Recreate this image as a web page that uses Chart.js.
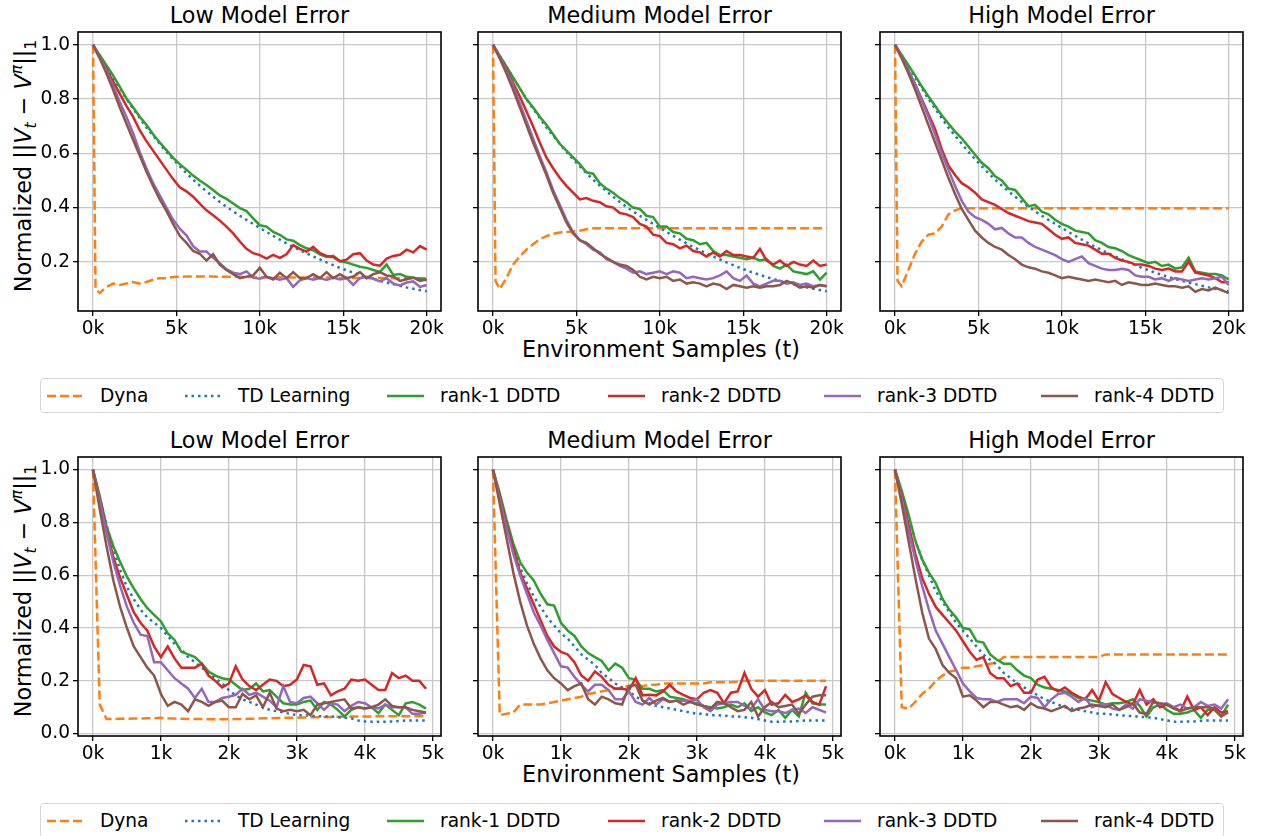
<!DOCTYPE html>
<html>
<head>
<meta charset="utf-8">
<script src="https://cdn.jsdelivr.net/npm/chart.js@4.4.1/dist/chart.umd.min.js"></script>
<style>
  body { margin: 0; background: #fff; font-family: 'DejaVu Sans', sans-serif; }
  #fig { position: relative; width: 1261px; height: 836px; overflow: hidden; background: #fff; }
  #fig canvas { position: absolute; }
  .title { position: absolute; font-size: 22.3px; line-height: 26px; text-align: center; color: #000; white-space: nowrap; }
  .yl { position: absolute; width: 0; height: 0; }
  .yl div { position: absolute; left: 0; top: 0; white-space: nowrap; font-size: 22.3px; line-height: 26px;
            transform: translate(-50%, -50%) rotate(-90deg); }
  .yl sub, .yl sup { font-size: 70%; line-height: 0; }
  .yl sub { vertical-align: -0.3em; }
  .yl sup { vertical-align: 0.55em; }
  .legend { position: absolute; left: 40px; width: 1184px; height: 35px; box-sizing: border-box;
            border: 1px solid #d6d6d6; border-radius: 4px; background: #fff; }
  .legend .item { position: absolute; top: 0; height: 100%; display: flex; align-items: center;
                  font-size: 18.6px; color: #000; white-space: nowrap; }
  .legend svg { margin-right: 16px; }
</style>
</head>
<body>
<div id="fig">
  <div class="title" style="left:78px;top:2px;width:363px">Low Model Error</div>
  <div class="title" style="left:478px;top:2px;width:363px">Medium Model Error</div>
  <div class="title" style="left:880px;top:2px;width:363px">High Model Error</div>
  <div class="title" style="left:78px;top:427px;width:363px">Low Model Error</div>
  <div class="title" style="left:478px;top:427px;width:363px">Medium Model Error</div>
  <div class="title" style="left:880px;top:427px;width:363px">High Model Error</div>

  <div class="title" style="left:461px;top:336px;width:400px">Environment Samples (t)</div>
  <div class="title" style="left:461px;top:761px;width:400px">Environment Samples (t)</div>

  <div class="yl" style="left:23px;top:166px"><div>Normalized ||<i>V</i><sub><i>t</i></sub> − <i>V</i><sup><i>π</i></sup>||<sub>1</sub></div></div>
  <div class="yl" style="left:23px;top:591px"><div>Normalized ||<i>V</i><sub><i>t</i></sub> − <i>V</i><sup><i>π</i></sup>||<sub>1</sub></div></div>

  <div class="legend" id="leg1" style="top:378px"></div>
  <div class="legend" id="leg2" style="top:803px"></div>

  <canvas id="c1"></canvas><canvas id="c2"></canvas><canvas id="c3"></canvas>
  <canvas id="c4"></canvas><canvas id="c5"></canvas><canvas id="c6"></canvas>
</div>

<script>
// ── Series names / colours (matplotlib tab10) ──
var SERIES = ['Dyna', 'TD Learning', 'rank-1 DDTD', 'rank-2 DDTD', 'rank-3 DDTD', 'rank-4 DDTD'];
var COLORS = ['#ff7f0e', '#1f77b4', '#2ca02c', '#d62728', '#9467bd', '#8c564b'];

// ── Top row: 0 .. 20k environment samples ──
var xTop = [0,150,400,800,1200,1600,2000,2400,2800,3200,3600,4000,4400,
  4800,5200,5600,6000,6400,6800,7200,7600,8000,8400,8800,9200,9600,
  10000,10400,10800,11200,11600,12000,12400,12800,13200,13600,14000,14400,14800,
  15200,15600,16000,16400,16800,17200,17600,18000,18400,18800,19200,19600,20000];

var tdTop = [1.0,0.985,0.96,0.92,0.88,0.84,0.80,0.765,0.73,0.695,0.665,0.635,0.605,
  0.578,0.552,0.527,0.503,0.481,0.46,0.44,0.421,0.403,0.386,0.37,0.355,0.34,
  0.325,0.31,0.296,0.282,0.268,0.255,0.243,0.231,0.22,0.209,0.198,0.188,0.178,
  0.169,0.16,0.152,0.144,0.137,0.13,0.124,0.118,0.112,0.106,0.101,0.096,0.092];

// Low model error (top)
var dynaLowT = [1.0,0.1,0.085,0.108,0.12,0.115,0.12,0.126,0.12,0.126,0.134,0.14,0.14,
  0.144,0.145,0.146,0.146,0.146,0.146,0.146,0.145,0.145,0.145,0.145,0.144,0.144,
  0.143,0.143,0.143,0.143,0.142,0.142,0.142,0.142,0.142,0.142,0.142,0.142,0.141,
  0.141,0.141,0.141,0.141,0.141,0.141,0.14,0.14,0.14,0.14,0.14,0.14,0.14];
var r1LowT = [1.0,0.985,0.962,0.925,0.887,0.846,0.803,0.77,0.735,0.705,0.67,0.64,0.612,
  0.583,0.56,0.54,0.518,0.50,0.483,0.465,0.445,0.432,0.415,0.398,0.387,0.36,
  0.335,0.33,0.31,0.30,0.283,0.278,0.262,0.25,0.243,0.228,0.218,0.222,0.203,
  0.198,0.19,0.182,0.178,0.17,0.163,0.19,0.152,0.155,0.145,0.142,0.138,0.132];
var r2LowT = [1.0,0.985,0.955,0.91,0.865,0.82,0.775,0.735,0.685,0.645,0.61,0.575,0.54,
  0.505,0.475,0.46,0.44,0.415,0.39,0.372,0.352,0.33,0.305,0.275,0.248,0.232,
  0.225,0.212,0.226,0.215,0.228,0.262,0.248,0.238,0.255,0.232,0.222,0.218,0.202,
  0.208,0.228,0.232,0.205,0.19,0.186,0.212,0.222,0.226,0.245,0.235,0.258,0.245];
var r3LowT = [1.0,0.985,0.955,0.905,0.85,0.79,0.735,0.675,0.605,0.545,0.49,0.445,0.40,
  0.355,0.322,0.298,0.258,0.238,0.238,0.215,0.195,0.172,0.16,0.155,0.165,0.142,
  0.138,0.145,0.14,0.134,0.14,0.108,0.132,0.14,0.134,0.14,0.133,0.142,0.135,
  0.14,0.115,0.14,0.145,0.138,0.128,0.14,0.12,0.113,0.124,0.128,0.108,0.115];
var r4LowT = [1.0,0.98,0.95,0.895,0.835,0.77,0.71,0.65,0.592,0.533,0.48,0.43,0.388,
  0.34,0.296,0.27,0.24,0.23,0.205,0.228,0.19,0.17,0.155,0.14,0.145,0.15,
  0.178,0.145,0.135,0.16,0.14,0.162,0.14,0.14,0.155,0.14,0.162,0.14,0.155,
  0.14,0.146,0.162,0.14,0.155,0.162,0.15,0.146,0.13,0.136,0.142,0.13,0.136];

// Medium model error (top)
var dynaMedT = [1.0,0.13,0.1,0.14,0.19,0.22,0.245,0.265,0.283,0.295,0.303,0.308,0.31,
  0.312,0.315,0.32,0.324,0.324,0.324,0.324,0.324,0.324,0.324,0.324,0.324,0.324,
  0.324,0.324,0.324,0.324,0.324,0.324,0.324,0.324,0.324,0.324,0.324,0.324,0.324,
  0.324,0.324,0.324,0.324,0.324,0.324,0.324,0.324,0.324,0.324,0.324,0.324,0.324];
var r1MedT = [1.0,0.985,0.96,0.92,0.88,0.84,0.80,0.77,0.735,0.705,0.67,0.635,0.61,
  0.585,0.56,0.53,0.525,0.49,0.47,0.455,0.435,0.42,0.40,0.395,0.37,0.365,
  0.33,0.33,0.31,0.305,0.285,0.28,0.265,0.27,0.24,0.225,0.225,0.22,0.215,
  0.21,0.215,0.205,0.21,0.185,0.175,0.19,0.165,0.16,0.155,0.165,0.135,0.16];
var r2MedT = [1.0,0.985,0.955,0.91,0.86,0.81,0.755,0.70,0.64,0.585,0.545,0.51,0.48,
  0.455,0.43,0.435,0.425,0.42,0.405,0.40,0.38,0.375,0.365,0.34,0.33,0.30,
  0.295,0.27,0.265,0.25,0.26,0.24,0.235,0.22,0.235,0.22,0.24,0.225,0.225,
  0.22,0.215,0.248,0.205,0.19,0.205,0.185,0.2,0.19,0.185,0.205,0.185,0.19];
var r3MedT = [1.0,0.985,0.955,0.905,0.85,0.785,0.72,0.655,0.59,0.53,0.465,0.41,0.355,
  0.31,0.28,0.265,0.245,0.235,0.21,0.2,0.185,0.175,0.16,0.165,0.155,0.16,
  0.165,0.155,0.165,0.16,0.14,0.145,0.14,0.135,0.14,0.15,0.165,0.14,0.13,
  0.15,0.12,0.11,0.12,0.13,0.13,0.12,0.125,0.115,0.12,0.11,0.115,0.11];
var r4MedT = [1.0,0.98,0.95,0.895,0.835,0.77,0.705,0.64,0.58,0.52,0.455,0.40,0.345,
  0.305,0.28,0.27,0.25,0.23,0.215,0.20,0.19,0.185,0.17,0.145,0.135,0.145,
  0.14,0.145,0.13,0.135,0.12,0.125,0.12,0.11,0.12,0.115,0.10,0.115,0.11,
  0.105,0.11,0.105,0.11,0.11,0.115,0.13,0.12,0.105,0.11,0.105,0.115,0.11];

// High model error (top)
var dynaHighT = [1.0,0.13,0.11,0.17,0.23,0.275,0.30,0.305,0.33,0.375,0.39,0.398,0.398,
  0.398,0.398,0.398,0.398,0.398,0.398,0.398,0.398,0.398,0.398,0.398,0.398,0.398,
  0.398,0.398,0.398,0.398,0.398,0.398,0.398,0.398,0.398,0.398,0.398,0.398,0.398,
  0.398,0.398,0.398,0.398,0.398,0.398,0.398,0.398,0.398,0.398,0.398,0.398,0.398];
var r1HighT = [1.0,0.985,0.962,0.925,0.887,0.847,0.81,0.775,0.74,0.71,0.68,0.655,0.625,
  0.595,0.565,0.545,0.515,0.50,0.47,0.465,0.435,0.405,0.41,0.385,0.375,0.355,
  0.34,0.33,0.315,0.31,0.305,0.28,0.27,0.255,0.25,0.24,0.225,0.215,0.205,
  0.195,0.2,0.185,0.19,0.175,0.18,0.215,0.165,0.16,0.155,0.155,0.15,0.135];
var r2HighT = [1.0,0.985,0.955,0.905,0.855,0.80,0.745,0.69,0.615,0.555,0.52,0.49,0.475,
  0.455,0.43,0.42,0.41,0.395,0.38,0.37,0.36,0.35,0.345,0.34,0.32,0.30,
  0.285,0.29,0.27,0.265,0.26,0.245,0.23,0.23,0.215,0.205,0.20,0.19,0.19,
  0.185,0.175,0.17,0.175,0.165,0.165,0.2,0.16,0.155,0.15,0.14,0.125,0.125];
var r3HighT = [1.0,0.985,0.955,0.905,0.855,0.795,0.735,0.67,0.60,0.54,0.48,0.425,0.385,
  0.365,0.355,0.34,0.32,0.325,0.305,0.29,0.29,0.27,0.255,0.245,0.235,0.225,
  0.21,0.2,0.21,0.22,0.195,0.185,0.175,0.17,0.17,0.175,0.17,0.15,0.145,
  0.145,0.135,0.14,0.13,0.14,0.135,0.13,0.135,0.14,0.135,0.14,0.145,0.115];
var r4HighT = [1.0,0.98,0.95,0.895,0.835,0.77,0.705,0.64,0.575,0.51,0.45,0.395,0.355,
  0.315,0.29,0.27,0.255,0.245,0.225,0.21,0.19,0.18,0.175,0.165,0.16,0.15,
  0.14,0.145,0.14,0.135,0.13,0.135,0.13,0.125,0.13,0.115,0.125,0.12,0.115,
  0.115,0.12,0.115,0.11,0.11,0.105,0.11,0.09,0.1,0.095,0.105,0.095,0.085];

// ── Bottom row: 0 .. 4.9k environment samples ──
var xBot = [0,100,200,300,400,500,600,700,800,900,
  1000,1100,1200,1300,1400,1500,1600,1700,1800,1900,
  2000,2100,2200,2300,2400,2500,2600,2700,2800,2900,
  3000,3100,3200,3300,3400,3500,3600,3700,3800,3900,
  4000,4100,4200,4300,4400,4500,4600,4700,4800,4900];

// Low model error (bottom)
var dynaLowB = [1.0,0.11,0.055,0.055,0.056,0.056,0.057,0.057,0.058,0.058,
  0.06,0.058,0.057,0.056,0.055,0.055,0.055,0.054,0.054,0.054,
  0.054,0.055,0.055,0.056,0.057,0.058,0.058,0.059,0.06,0.06,
  0.06,0.061,0.062,0.062,0.063,0.063,0.064,0.064,0.065,0.065,
  0.065,0.065,0.066,0.066,0.066,0.066,0.066,0.066,0.066,0.066];
var tdLowB = [1.0,0.89,0.79,0.70,0.62,0.555,0.51,0.47,0.44,0.42,
  0.40,0.37,0.34,0.32,0.29,0.27,0.25,0.23,0.21,0.19,
  0.165,0.145,0.13,0.12,0.11,0.10,0.09,0.085,0.08,0.075,
  0.07,0.07,0.068,0.066,0.065,0.065,0.062,0.06,0.058,0.05,
  0.046,0.045,0.045,0.045,0.046,0.048,0.05,0.05,0.05,0.05];
var r1LowB = [1.0,0.9,0.785,0.71,0.65,0.595,0.55,0.51,0.475,0.45,
  0.425,0.38,0.355,0.31,0.30,0.29,0.265,0.235,0.22,0.21,
  0.205,0.185,0.165,0.17,0.19,0.16,0.165,0.14,0.115,0.11,
  0.11,0.12,0.125,0.09,0.12,0.11,0.09,0.065,0.09,0.10,
  0.095,0.10,0.077,0.11,0.09,0.07,0.115,0.12,0.11,0.095];
var r2LowB = [1.0,0.89,0.77,0.67,0.59,0.525,0.46,0.42,0.39,0.33,
  0.29,0.33,0.285,0.25,0.25,0.25,0.265,0.22,0.20,0.175,
  0.19,0.255,0.205,0.18,0.165,0.185,0.205,0.20,0.18,0.185,
  0.205,0.26,0.255,0.185,0.19,0.145,0.16,0.17,0.205,0.20,
  0.205,0.185,0.165,0.165,0.23,0.21,0.22,0.20,0.20,0.17];
var r3LowB = [1.0,0.88,0.76,0.65,0.56,0.48,0.42,0.375,0.37,0.27,
  0.27,0.24,0.21,0.19,0.17,0.135,0.17,0.12,0.12,0.135,
  0.14,0.147,0.17,0.147,0.155,0.14,0.125,0.10,0.18,0.12,
  0.115,0.135,0.14,0.115,0.09,0.115,0.11,0.085,0.105,0.12,
  0.115,0.10,0.095,0.11,0.10,0.10,0.10,0.075,0.075,0.08];
var r4LowB = [1.0,0.85,0.71,0.58,0.48,0.40,0.33,0.29,0.25,0.22,
  0.15,0.105,0.12,0.11,0.085,0.13,0.12,0.105,0.12,0.125,
  0.10,0.10,0.15,0.13,0.145,0.10,0.155,0.095,0.085,0.09,
  0.085,0.09,0.07,0.11,0.115,0.12,0.125,0.13,0.095,0.10,
  0.095,0.10,0.11,0.13,0.105,0.10,0.10,0.09,0.085,0.08];

// Medium model error (bottom)
var dynaMedB = [1.0,0.07,0.075,0.08,0.11,0.11,0.11,0.11,0.115,0.12,
  0.125,0.13,0.135,0.14,0.15,0.155,0.16,0.165,0.17,0.175,
  0.18,0.18,0.18,0.185,0.185,0.19,0.19,0.19,0.19,0.19,
  0.19,0.19,0.195,0.195,0.195,0.195,0.197,0.2,0.2,0.2,
  0.2,0.2,0.2,0.2,0.2,0.2,0.2,0.2,0.2,0.2];
var tdMedB = [1.0,0.9,0.80,0.71,0.63,0.57,0.52,0.48,0.44,0.41,
  0.38,0.36,0.33,0.30,0.28,0.26,0.23,0.21,0.19,0.175,
  0.16,0.14,0.125,0.115,0.105,0.10,0.095,0.09,0.085,0.08,
  0.075,0.075,0.07,0.07,0.068,0.065,0.065,0.062,0.06,0.055,
  0.05,0.045,0.045,0.046,0.046,0.048,0.05,0.05,0.05,0.05];
var r1MedB = [1.0,0.91,0.81,0.72,0.65,0.61,0.58,0.53,0.49,0.485,
  0.42,0.39,0.37,0.33,0.305,0.29,0.275,0.24,0.265,0.25,
  0.21,0.205,0.17,0.17,0.16,0.165,0.14,0.135,0.13,0.12,
  0.115,0.105,0.10,0.095,0.10,0.11,0.10,0.115,0.085,0.10,
  0.08,0.07,0.09,0.06,0.09,0.065,0.155,0.115,0.11,0.11];
var r2MedB = [1.0,0.9,0.79,0.70,0.61,0.55,0.49,0.43,0.37,0.33,
  0.31,0.30,0.27,0.22,0.20,0.235,0.215,0.185,0.17,0.17,
  0.165,0.21,0.145,0.147,0.145,0.16,0.185,0.16,0.147,0.135,
  0.13,0.155,0.165,0.155,0.115,0.155,0.16,0.23,0.17,0.14,
  0.165,0.11,0.115,0.147,0.12,0.13,0.145,0.12,0.11,0.18];
var r3MedB = [1.0,0.89,0.78,0.68,0.60,0.53,0.46,0.41,0.355,0.305,
  0.255,0.25,0.215,0.185,0.16,0.185,0.185,0.165,0.13,0.13,
  0.16,0.12,0.11,0.135,0.11,0.13,0.12,0.125,0.125,0.125,
  0.13,0.10,0.085,0.11,0.115,0.12,0.12,0.105,0.095,0.13,
  0.09,0.085,0.085,0.078,0.09,0.095,0.078,0.10,0.09,0.08];
var r4MedB = [1.0,0.87,0.74,0.61,0.50,0.41,0.34,0.285,0.24,0.21,
  0.19,0.165,0.18,0.19,0.13,0.11,0.14,0.13,0.115,0.11,
  0.18,0.185,0.125,0.11,0.125,0.135,0.12,0.125,0.11,0.12,
  0.11,0.105,0.095,0.12,0.115,0.10,0.085,0.09,0.12,0.065,
  0.10,0.12,0.10,0.105,0.11,0.075,0.11,0.14,0.145,0.145];

// High model error (bottom)
var dynaHighB = [1.0,0.10,0.095,0.12,0.15,0.17,0.20,0.22,0.235,0.24,
  0.25,0.25,0.255,0.26,0.265,0.27,0.29,0.29,0.29,0.29,
  0.29,0.29,0.29,0.29,0.29,0.29,0.29,0.29,0.29,0.29,
  0.29,0.30,0.30,0.30,0.30,0.30,0.30,0.30,0.30,0.30,
  0.30,0.30,0.30,0.30,0.30,0.30,0.30,0.30,0.30,0.30];
var tdHighB = [1.0,0.91,0.82,0.73,0.66,0.60,0.54,0.50,0.46,0.42,
  0.39,0.36,0.33,0.30,0.28,0.26,0.23,0.21,0.19,0.175,
  0.16,0.145,0.13,0.12,0.11,0.10,0.095,0.09,0.085,0.08,
  0.075,0.075,0.072,0.07,0.068,0.066,0.064,0.062,0.06,0.055,
  0.05,0.045,0.045,0.046,0.046,0.048,0.05,0.05,0.05,0.05];
var r1HighB = [1.0,0.92,0.83,0.73,0.66,0.61,0.57,0.51,0.47,0.44,
  0.40,0.395,0.35,0.345,0.30,0.28,0.265,0.265,0.24,0.22,
  0.21,0.185,0.175,0.17,0.165,0.16,0.15,0.135,0.13,0.125,
  0.12,0.11,0.115,0.115,0.12,0.13,0.105,0.065,0.10,0.11,
  0.09,0.075,0.075,0.08,0.09,0.06,0.09,0.09,0.065,0.11];
var r2HighB = [1.0,0.90,0.79,0.68,0.59,0.53,0.48,0.45,0.42,0.39,
  0.35,0.31,0.28,0.29,0.23,0.21,0.21,0.18,0.19,0.155,
  0.155,0.205,0.215,0.175,0.16,0.175,0.155,0.14,0.13,0.165,
  0.125,0.195,0.15,0.135,0.12,0.11,0.165,0.11,0.13,0.10,
  0.11,0.10,0.085,0.14,0.09,0.10,0.07,0.10,0.08,0.085];
var r3HighB = [1.0,0.89,0.77,0.66,0.56,0.47,0.39,0.34,0.29,0.24,
  0.19,0.16,0.135,0.13,0.13,0.12,0.13,0.13,0.13,0.115,
  0.14,0.135,0.10,0.13,0.15,0.155,0.14,0.12,0.135,0.10,
  0.11,0.11,0.095,0.09,0.11,0.095,0.13,0.125,0.12,0.11,
  0.115,0.10,0.11,0.095,0.10,0.12,0.105,0.11,0.095,0.13];
var r4HighB = [1.0,0.87,0.73,0.59,0.46,0.36,0.32,0.26,0.23,0.21,
  0.14,0.145,0.125,0.10,0.12,0.12,0.11,0.10,0.105,0.09,
  0.115,0.10,0.095,0.085,0.095,0.105,0.085,0.095,0.10,0.11,
  0.105,0.10,0.11,0.09,0.10,0.115,0.08,0.075,0.12,0.115,
  0.11,0.095,0.085,0.095,0.10,0.10,0.10,0.095,0.065,0.08];

// ── Tick values / labels ──
var xTicksTop = [0, 5000, 10000, 15000, 20000];
var xLabelsTop = ['0k', '5k', '10k', '15k', '20k'];
var xTicksBot = [0, 1000, 2000, 3000, 4000, 5000];
var xLabelsBot = ['0k', '1k', '2k', '3k', '4k', '5k'];
var yTicksTop = [0.2, 0.4, 0.6, 0.8, 1.0];
var yLabelsTop = ['0.2', '0.4', '0.6', '0.8', '1.0'];
var yTicksBot = [0.0, 0.2, 0.4, 0.6, 0.8, 1.0];
var yLabelsBot = ['0.0', '0.2', '0.4', '0.6', '0.8', '1.0'];

// ── Layout of the six axes boxes (page pixels) ──
var COLS = [78, 478, 880], ROWS = [32, 457], BOX_W = 363, BOX_H = 279;

var FONT = { family: "'DejaVu Sans', sans-serif", size: 18.6 };
var DASH = [[9, 4], [2.5, 4], [], [], [], []];

// contorno negro completo del área (spines de matplotlib)
var framePlugin = {
  id: 'frame',
  afterDatasetsDraw: function (chart) {
    var a = chart.chartArea, ctx = chart.ctx;
    ctx.save();
    ctx.strokeStyle = '#000';
    ctx.lineWidth = 1.6;
    ctx.strokeRect(a.left, a.top, a.right - a.left, a.bottom - a.top);
    ctx.restore();
  }
};

function makePanel(id, col, row, xs, ys, xr, xt, xl, yr, yt, yl) {
  var cv = document.getElementById(id);
  var showY = col === 0;
  var yw = showY ? 62 : 10, padT = 20, padR = 14, xh = 34;
  cv.width = yw + BOX_W + padR;
  cv.height = padT + BOX_H + xh;
  cv.style.left = (COLS[col] - yw) + 'px';
  cv.style.top = (ROWS[row] - padT) + 'px';

  var datasets = ys.map(function (arr, k) {
    return {
      label: SERIES[k],
      data: arr.map(function (v, i) { return { x: xs[i], y: v }; }),
      borderColor: COLORS[k],
      borderWidth: 2.5,
      borderDash: DASH[k],
      borderCapStyle: 'butt',
      pointRadius: 0,
      tension: 0,
      fill: false,
      order: ys.length - k     // brown on top, Dyna at the bottom
    };
  });

  var gridOpts = { color: '#c8c8c8', lineWidth: 1.3, tickColor: '#000', tickWidth: 1.3, tickLength: 5, drawTicks: true };

  return new Chart(cv.getContext('2d'), {
    type: 'line',
    data: { datasets: datasets },
    plugins: [framePlugin],
    options: {
      responsive: false,
      animation: false,
      events: [],
      layout: { padding: { left: 0, right: padR, top: padT, bottom: 0 } },
      plugins: { legend: { display: false }, tooltip: { enabled: false } },
      scales: {
        x: {
          type: 'linear', min: xr[0], max: xr[1],
          grid: gridOpts,
          border: { display: false },
          afterBuildTicks: function (s) { s.ticks = xt.map(function (v) { return { value: v }; }); },
          afterFit: function (s) { s.height = xh; },
          ticks: { color: '#000', font: FONT, padding: 2, maxRotation: 0, autoSkip: false,
                   callback: function (v, i) { return xl[i]; } }
        },
        y: {
          type: 'linear', min: yr[0], max: yr[1],
          grid: gridOpts,
          border: { display: false },
          afterBuildTicks: function (s) { s.ticks = yt.map(function (v) { return { value: v }; }); },
          afterFit: function (s) { s.width = yw; },
          ticks: { display: showY, color: '#000', font: FONT, padding: 3, autoSkip: false,
                   callback: function (v, i) { return yl[i]; } }
        }
      }
    }
  });
}

var xRangeTop = [-900, 20860], xRangeBot = [-220, 5120];
var yRangeTop = [0.019, 1.047], yRangeBot = [-0.009, 1.048];

makePanel('c1', 0, 0, xTop, [dynaLowT, tdTop, r1LowT, r2LowT, r3LowT, r4LowT], xRangeTop, xTicksTop, xLabelsTop, yRangeTop, yTicksTop, yLabelsTop);
makePanel('c2', 1, 0, xTop, [dynaMedT, tdTop, r1MedT, r2MedT, r3MedT, r4MedT], xRangeTop, xTicksTop, xLabelsTop, yRangeTop, yTicksTop, yLabelsTop);
makePanel('c3', 2, 0, xTop, [dynaHighT, tdTop, r1HighT, r2HighT, r3HighT, r4HighT], xRangeTop, xTicksTop, xLabelsTop, yRangeTop, yTicksTop, yLabelsTop);
makePanel('c4', 0, 1, xBot, [dynaLowB, tdLowB, r1LowB, r2LowB, r3LowB, r4LowB], xRangeBot, xTicksBot, xLabelsBot, yRangeBot, yTicksBot, yLabelsBot);
makePanel('c5', 1, 1, xBot, [dynaMedB, tdMedB, r1MedB, r2MedB, r3MedB, r4MedB], xRangeBot, xTicksBot, xLabelsBot, yRangeBot, yTicksBot, yLabelsBot);
makePanel('c6', 2, 1, xBot, [dynaHighB, tdHighB, r1HighB, r2HighB, r3HighB, r4HighB], xRangeBot, xTicksBot, xLabelsBot, yRangeBot, yTicksBot, yLabelsBot);

// ── Legend rows (one under each row of axes) ──
var LEG_TEXT_X = [100, 238, 440, 661, 877, 1094];
function buildLegend(id) {
  var el = document.getElementById(id);
  SERIES.forEach(function (name, k) {
    var it = document.createElement('div');
    it.className = 'item';
    it.style.left = (LEG_TEXT_X[k] - 53 - 41) + 'px';
    var dash = DASH[k].length ? ' stroke-dasharray="' + DASH[k].join(' ') + '"' : '';
    it.innerHTML = '<svg width="37" height="10"><line x1="0" y1="5" x2="37" y2="5" stroke="' + COLORS[k] +
      '" stroke-width="2.5"' + dash + '/></svg><span>' + name + '</span>';
    el.appendChild(it);
  });
}
buildLegend('leg1');
buildLegend('leg2');
</script>
</body>
</html>
